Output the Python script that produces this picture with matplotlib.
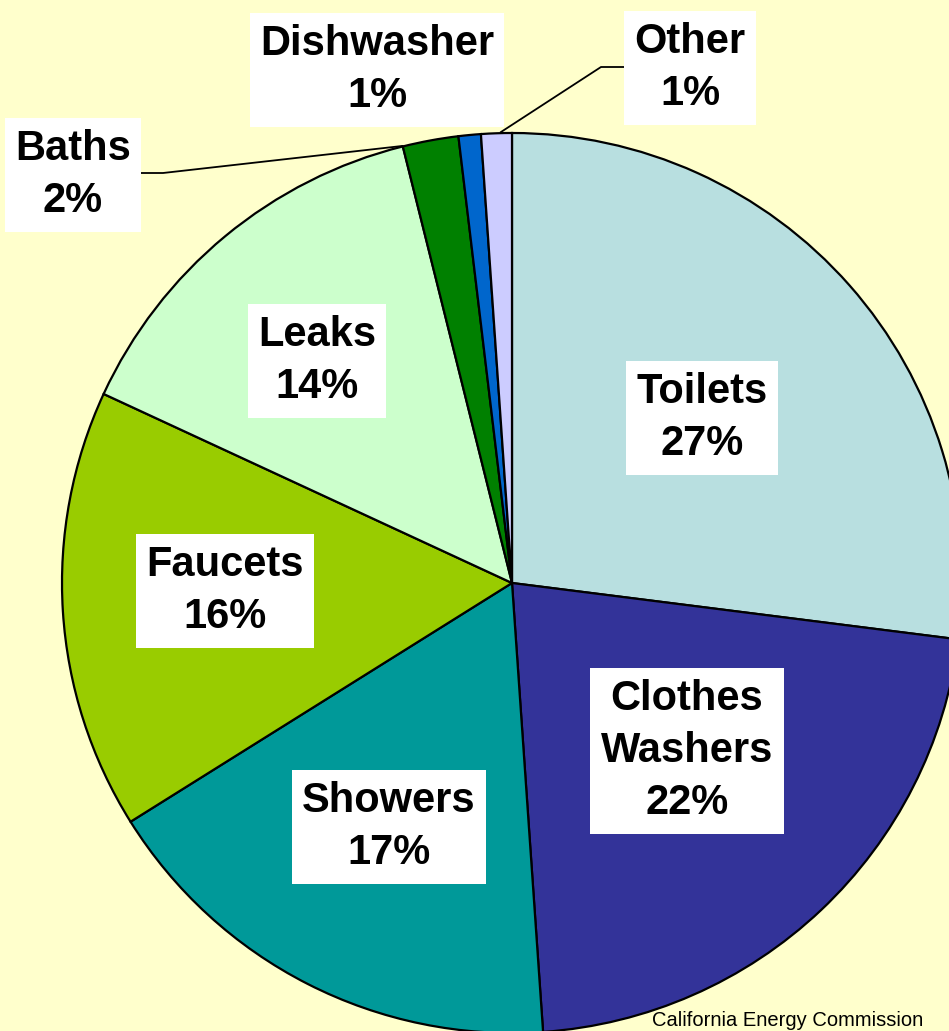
import matplotlib
matplotlib.use("Agg")
import matplotlib.pyplot as plt

categories = ["Toilets", "Clothes\nWashers", "Showers", "Faucets", "Leaks", "Baths", "Dishwasher", "Other"]
shares = [27.0, 21.9, 17.2, 15.8, 14.2, 2.0, 0.8, 1.1]
pct_labels = ["27%", "22%", "17%", "16%", "14%", "2%", "1%", "1%"]
colors = ["#B8DFE0", "#333399", "#009999", "#99CC00", "#CCFFCC", "#008000", "#0066CC", "#CCCCFF"]

W, H = 949, 1031
fig = plt.figure(figsize=(W / 100, H / 100), dpi=100)
fig.patch.set_facecolor("#FFFFCC")
ax = fig.add_axes([0, 0, 1, 1])
ax.set_facecolor("#FFFFCC")

cx, cy, r = 512, H - 583, 450
ax.pie(shares, colors=colors, startangle=90, counterclock=False,
       center=(cx, cy), radius=r, frame=True,
       wedgeprops=dict(edgecolor="black", linewidth=1.6))
ax.set_xlim(0, W)
ax.set_ylim(0, H)
ax.axis("off")

# label box centres (pixel coords, y from top)
label_pos = [(702, 418), (687, 751), (389, 827), (225, 591), (317, 361),
             (73, 175), (377, 70), (690, 68)]
for name, pct, (x, y) in zip(categories, pct_labels, label_pos):
    ax.text(x, H - y, f"{name}\n{pct}", ha="center", va="center",
            fontsize=30, fontweight="bold", family="Liberation Sans",
            linespacing=1.4, color="black",
            bbox=dict(boxstyle="square,pad=0.25", facecolor="white", edgecolor="none"))

# leader lines
ax.plot([139, 163, 402], [H - 173, H - 173, H - 146], color="black", lw=1.3)
ax.plot([630, 601, 501], [H - 67, H - 67, H - 132], color="black", lw=1.3)

ax.text(652, H - 1026, "California Energy Commission", ha="left", va="baseline",
        fontsize=14.5, family="Liberation Sans", color="black")

fig.savefig("out.png", dpi=100, facecolor=fig.get_facecolor())
